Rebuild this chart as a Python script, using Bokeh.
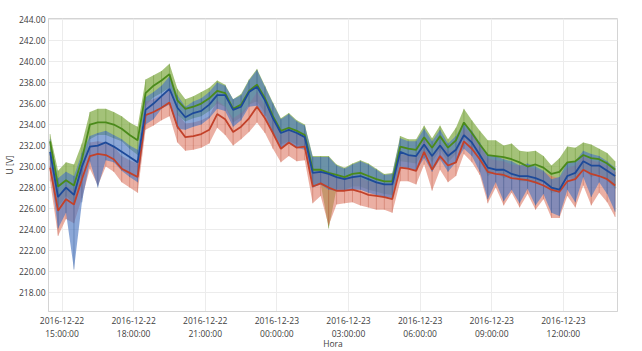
from datetime import datetime, timedelta
from bokeh.plotting import figure
from bokeh.models import FixedTicker, DatetimeTickFormatter, Range1d, ColumnDataSource
from bokeh.embed import file_html
from bokeh.resources import INLINE

# ---- data (20-minute samples) ----
start = datetime(2016, 12, 22, 14, 30)
times = [start + timedelta(minutes=20 * i) for i in range(72)]

green_mean = [232.4, 228.1, 228.7, 228.2, 230.7, 234.0, 234.2, 234.2, 234.0, 233.6, 233.0, 232.5,
              237.0, 237.7, 238.2, 238.8, 236.3, 235.5, 235.7, 236.0, 236.5, 237.2, 237.0, 235.5,
              235.9, 237.2, 237.8, 236.5, 234.8, 233.4, 233.7, 233.4, 233.0, 229.7, 229.7, 229.4,
              229.2, 229.0, 229.3, 229.4, 229.1, 228.8, 228.6, 228.6, 231.9, 231.7, 231.6, 232.8,
              231.8, 232.9, 231.8, 232.5, 234.2, 233.2, 232.1, 231.1, 231.0, 230.9, 230.7, 230.4,
              230.0, 230.2, 229.9, 229.3, 229.5, 230.4, 230.5, 231.1, 230.8, 230.7, 230.3, 229.7]
green_max = [233.1, 229.6, 230.4, 230.2, 232.2, 235.2, 235.5, 235.5, 235.2, 234.8, 234.2, 233.8,
             238.3, 238.7, 239.1, 239.8, 237.4, 236.4, 236.7, 237.1, 237.5, 238.2, 237.8, 236.4,
             236.9, 238.3, 239.3, 237.7, 236.1, 234.6, 235.1, 234.4, 234.0, 231.0, 231.0, 231.0,
             230.2, 229.9, 230.3, 230.6, 230.3, 229.8, 229.3, 229.4, 232.9, 232.6, 232.6, 233.9,
             232.7, 233.9, 232.6, 233.7, 235.5, 234.4, 233.4, 232.5, 232.5, 232.0, 232.2, 231.5,
             231.4, 231.5, 231.0, 230.1, 230.8, 231.9, 231.8, 232.3, 232.1, 231.7, 231.3, 230.5]
green_min = [230.6, 226.1, 227.2, 226.5, 229.1, 232.6, 233.0, 233.0, 232.7, 232.4, 231.7, 231.1,
             235.8, 236.6, 237.0, 237.5, 234.9, 234.3, 234.6, 234.8, 235.3, 236.0, 235.7, 234.2,
             234.7, 235.9, 236.2, 235.1, 233.3, 232.1, 232.4, 232.1, 231.8, 228.2, 228.4, 224.1,
             227.9, 227.8, 228.1, 228.1, 227.8, 227.6, 227.4, 227.3, 230.5, 230.4, 230.3, 231.5,
             230.4, 231.6, 230.4, 231.2, 232.8, 231.8, 230.6, 229.1, 229.6, 228.9, 229.2, 228.6,
             228.6, 228.4, 228.5, 227.5, 227.6, 229.0, 228.7, 229.8, 229.0, 229.3, 228.7, 227.9]

blue_mean = [231.4, 227.1, 228.0, 227.3, 230.0, 231.9, 232.0, 232.3, 231.9, 231.4, 230.9, 230.4,
             235.4, 236.0, 236.7, 237.4, 235.6, 234.7, 235.1, 235.3, 235.9, 236.8, 236.8, 235.4,
             235.7, 237.1, 237.6, 236.3, 234.6, 233.2, 233.5, 233.2, 232.8, 229.4, 229.5, 229.3,
             229.0, 228.8, 229.0, 229.1, 228.8, 228.5, 228.3, 228.3, 231.4, 231.1, 231.0, 232.1,
             231.0, 232.0, 231.0, 231.6, 233.0, 232.3, 231.1, 229.9, 229.7, 229.7, 229.3, 229.1,
             229.1, 228.9, 228.6, 228.0, 227.8, 229.1, 229.4, 230.5, 230.1, 230.1, 229.6, 229.1]
blue_max = [232.6, 228.9, 229.5, 229.1, 231.3, 232.9, 233.2, 233.4, 233.0, 232.6, 232.0, 231.6,
            236.6, 237.1, 237.7, 238.6, 236.8, 235.7, 236.2, 236.5, 237.1, 238.0, 237.7, 236.4,
            236.8, 238.2, 239.2, 237.6, 236.0, 234.5, 235.0, 234.3, 233.9, 230.9, 230.9, 230.9,
            230.1, 229.8, 230.2, 230.5, 230.2, 229.7, 229.2, 229.3, 232.7, 232.4, 232.4, 233.6,
            232.4, 233.5, 232.2, 232.9, 234.2, 233.4, 232.3, 231.1, 231.0, 230.7, 230.5, 230.1,
            230.3, 230.0, 229.6, 228.8, 229.0, 230.4, 230.5, 231.5, 231.2, 231.0, 230.5, 229.9]
blue_min = [229.8, 224.1, 225.6, 220.2, 226.6, 230.5, 228.0, 230.6, 230.4, 229.6, 229.0, 228.5,
            234.0, 234.5, 235.5, 235.9, 233.6, 233.5, 233.8, 234.0, 234.6, 235.5, 235.3, 233.8,
            234.4, 235.7, 235.8, 234.8, 233.1, 231.8, 232.2, 231.8, 231.6, 228.0, 228.3, 227.8,
            227.7, 227.7, 227.8, 227.8, 227.5, 227.3, 227.1, 227.0, 230.0, 229.8, 229.6, 230.8,
            229.5, 230.7, 229.5, 230.4, 231.7, 231.0, 229.5, 226.9, 228.5, 226.7, 227.8, 226.5,
            227.9, 226.3, 227.4, 225.6, 225.3, 227.8, 226.6, 229.0, 227.1, 228.5, 227.4, 225.7]

red_mean = [229.9, 225.8, 226.9, 226.4, 228.8, 231.0, 231.2, 231.1, 230.7, 229.8, 229.4, 229.0,
            234.9, 235.2, 235.6, 236.1, 233.8, 232.8, 232.9, 233.1, 233.5, 235.0, 234.5, 233.3,
            233.8, 234.6, 235.7, 234.6, 233.2, 231.7, 232.3, 231.8, 231.9, 228.1, 228.4, 228.0,
            227.7, 227.7, 227.8, 227.6, 227.3, 227.2, 227.1, 226.9, 229.9, 229.8, 229.6, 231.4,
            229.7, 231.0, 230.1, 230.4, 232.4, 231.7, 230.7, 229.5, 229.3, 229.2, 228.9, 228.8,
            228.7, 228.5, 228.2, 227.8, 227.6, 228.6, 228.8, 229.7, 229.3, 229.1, 228.8, 228.2]
red_max = [231.2, 227.3, 228.2, 227.8, 230.1, 232.3, 232.4, 232.3, 231.9, 231.0, 230.6, 230.3,
           236.2, 236.4, 236.8, 237.4, 235.1, 234.1, 234.2, 234.4, 234.8, 236.3, 235.7, 234.6,
           235.1, 235.9, 237.1, 235.8, 234.5, 233.0, 233.6, 233.1, 233.2, 229.4, 229.7, 229.3,
           228.9, 229.0, 229.1, 228.9, 228.6, 228.5, 228.4, 228.2, 231.2, 231.1, 230.9, 232.7,
           231.0, 232.3, 231.4, 231.7, 233.7, 233.0, 232.0, 230.8, 230.6, 230.5, 230.2, 230.1,
           230.0, 229.8, 229.5, 229.1, 228.9, 229.9, 230.1, 231.0, 230.6, 230.4, 230.1, 229.5]
red_min = [228.6, 223.4, 225.0, 224.6, 227.0, 229.8, 228.2, 230.0, 229.5, 228.5, 228.0, 227.5,
           233.5, 233.9, 234.4, 234.8, 232.3, 231.5, 231.6, 231.8, 232.2, 233.7, 233.0, 232.0,
           232.6, 233.3, 234.2, 233.2, 231.7, 230.4, 231.0, 230.5, 230.6, 226.5, 227.2, 224.4,
           226.4, 226.5, 226.6, 226.3, 226.1, 225.9, 225.9, 225.6, 228.6, 228.6, 228.3, 230.2,
           227.7, 229.7, 228.5, 229.1, 231.2, 230.4, 229.2, 226.5, 228.0, 226.3, 227.5, 226.1,
           227.4, 225.9, 226.9, 225.1, 225.1, 227.2, 226.1, 228.2, 226.3, 227.5, 226.6, 225.2]

y_ticks = [218, 220, 222, 224, 226, 228, 230, 232, 234, 236, 238, 240, 242, 244]
x_ticks = [datetime(2016, 12, 22, 15), datetime(2016, 12, 22, 18), datetime(2016, 12, 22, 21),
           datetime(2016, 12, 23, 0), datetime(2016, 12, 23, 3), datetime(2016, 12, 23, 6),
           datetime(2016, 12, 23, 9), datetime(2016, 12, 23, 12)]

EPOCH = datetime(1970, 1, 1)
def ms(d):
    return (d - EPOCH).total_seconds() * 1000.0

p = figure(width=642, height=351, x_axis_type="datetime", output_backend="svg",
           toolbar_location=None,
           x_range=Range1d(ms(datetime(2016, 12, 22, 14, 26)), ms(datetime(2016, 12, 23, 14, 16))),
           y_range=Range1d(216.2, 244.1),
           min_border_left=47, min_border_right=25, min_border_top=18, min_border_bottom=37)

p.background_fill_color = "white"
p.border_fill_color = "white"
p.outline_line_color = "#d4d4d4"

series = [
    ("green", green_mean, green_max, green_min, "#86ad4c", "#5c8a25", "#4a8a1a", 0.75),
    ("red", red_mean, red_max, red_min, "#dd7a66", "#b8503c", "#c2412a", 0.6),
    ("blue", blue_mean, blue_max, blue_min, "#4d78c2", "#2d558f", "#1d4a9a", 0.65),
]
for name, mean, hi, lo, fill, seg, line, alpha in series:
    src = ColumnDataSource(dict(t=times, mean=mean, hi=hi, lo=lo))
    p.varea(x="t", y1="lo", y2="hi", source=src, fill_color=fill, fill_alpha=alpha)
    p.segment(x0="t", y0="lo", x1="t", y1="hi", source=src, line_color=seg,
              line_width=0.6, line_alpha=0.6)
for name, mean, hi, lo, fill, seg, line, alpha in series:
    src = ColumnDataSource(dict(t=times, mean=mean))
    p.line(x="t", y="mean", source=src, line_color=line, line_width=1.8)

p.xaxis.ticker = FixedTicker(ticks=[ms(d) for d in x_ticks])
fmt = "%Y-%m-%d\n%H:%M:%S"
p.xaxis.formatter = DatetimeTickFormatter(
    microseconds=fmt, milliseconds=fmt, seconds=fmt, minsec=fmt, minutes=fmt,
    hourmin=fmt, hours=fmt, days=fmt, months=fmt, years=fmt)
p.yaxis.ticker = FixedTicker(ticks=y_ticks)
p.yaxis.major_label_overrides = {v: f"{v:.2f}" for v in y_ticks}

for ax in (p.xaxis[0], p.yaxis[0]):
    ax.axis_line_color = "#d4d4d4"
    ax.major_tick_line_color = None
    ax.minor_tick_line_color = None
    ax.major_tick_out = 0
    ax.major_tick_in = 0
    ax.minor_tick_out = 0
    ax.minor_tick_in = 0
    ax.major_label_text_font = "Open Sans"
    ax.major_label_text_font_size = "8.5px"
    ax.major_label_text_color = "#404040"
    ax.axis_label_text_font = "Open Sans"
    ax.axis_label_text_font_size = "8.5px"
    ax.axis_label_text_font_style = "normal"
    ax.axis_label_text_color = "#404040"

p.xaxis.axis_label = "Hora"
p.yaxis.axis_label = "U [V]"
p.yaxis.major_label_standoff = 3
p.yaxis.axis_label_standoff = 1
p.xaxis.major_label_standoff = 3
p.xaxis.axis_label_standoff = -4

p.xgrid.grid_line_color = "#ececec"
p.ygrid.grid_line_color = "#ececec"
p.xgrid.ticker = FixedTicker(ticks=[ms(d) for d in x_ticks])
p.ygrid.ticker = FixedTicker(ticks=y_ticks)

open("out.html", "w").write(file_html(p, INLINE))
